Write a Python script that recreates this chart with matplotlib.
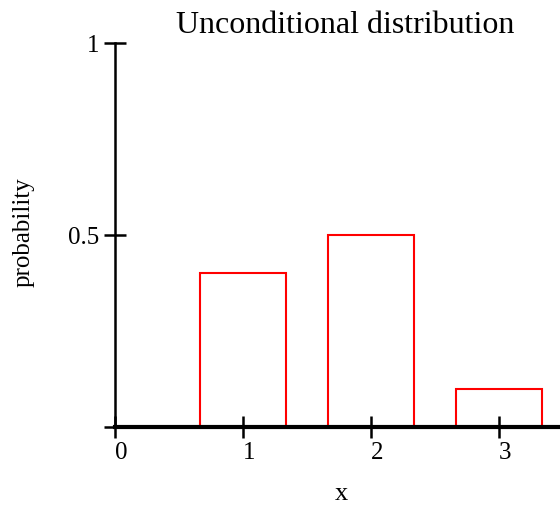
import matplotlib

matplotlib.use("Agg")
import matplotlib.pyplot as plt

# unconditional distribution of x
xs = [1, 2, 3]
probs = [0.4, 0.5, 0.1]
xticks = [0, 1, 2, 3]
yticks = [0, 0.5, 1]
ytick_labels = ["", "0.5", "1"]

plt.rcParams["font.family"] = ["Liberation Serif", "DejaVu Serif"]

fig = plt.figure(figsize=(5.6, 5.1), dpi=100)
ax = fig.add_axes([115 / 560, 1 - 428 / 510, 1 - 115 / 560, (428 - 44) / 510])

ax.bar(xs, probs, width=2 / 3, fill=False, edgecolor="red", linewidth=1.5)

ax.set_xlim(0, 445 / 128)
ax.set_ylim(0, 1)
ax.set_xticks(xticks)
ax.set_xticklabels([str(v) for v in xticks], ha="left")
ax.set_yticks(yticks)
ax.set_yticklabels(ytick_labels)

for s in ["top", "right"]:
    ax.spines[s].set_visible(False)
ax.spines["bottom"].set_linewidth(3)
ax.spines["left"].set_linewidth(1.8)
ax.spines["bottom"].set_zorder(5)

ax.tick_params(axis="both", direction="inout", length=16, width=1.8, labelsize=18)
ax.tick_params(axis="x", pad=2)
ax.tick_params(axis="y", pad=3)

ax.set_title("Unconditional distribution", fontsize=23, pad=8, x=0.517)
ax.set_xlabel("x", fontsize=19, va="center")
ax.xaxis.set_label_coords((341 - 115) / 445, -(494 - 428) / 384)
ax.set_ylabel("probability", fontsize=18, va="center")
ax.yaxis.set_label_coords(-(115 - 24) / 445, (428 - 232) / 384)

fig.savefig("out.png", dpi=100)
